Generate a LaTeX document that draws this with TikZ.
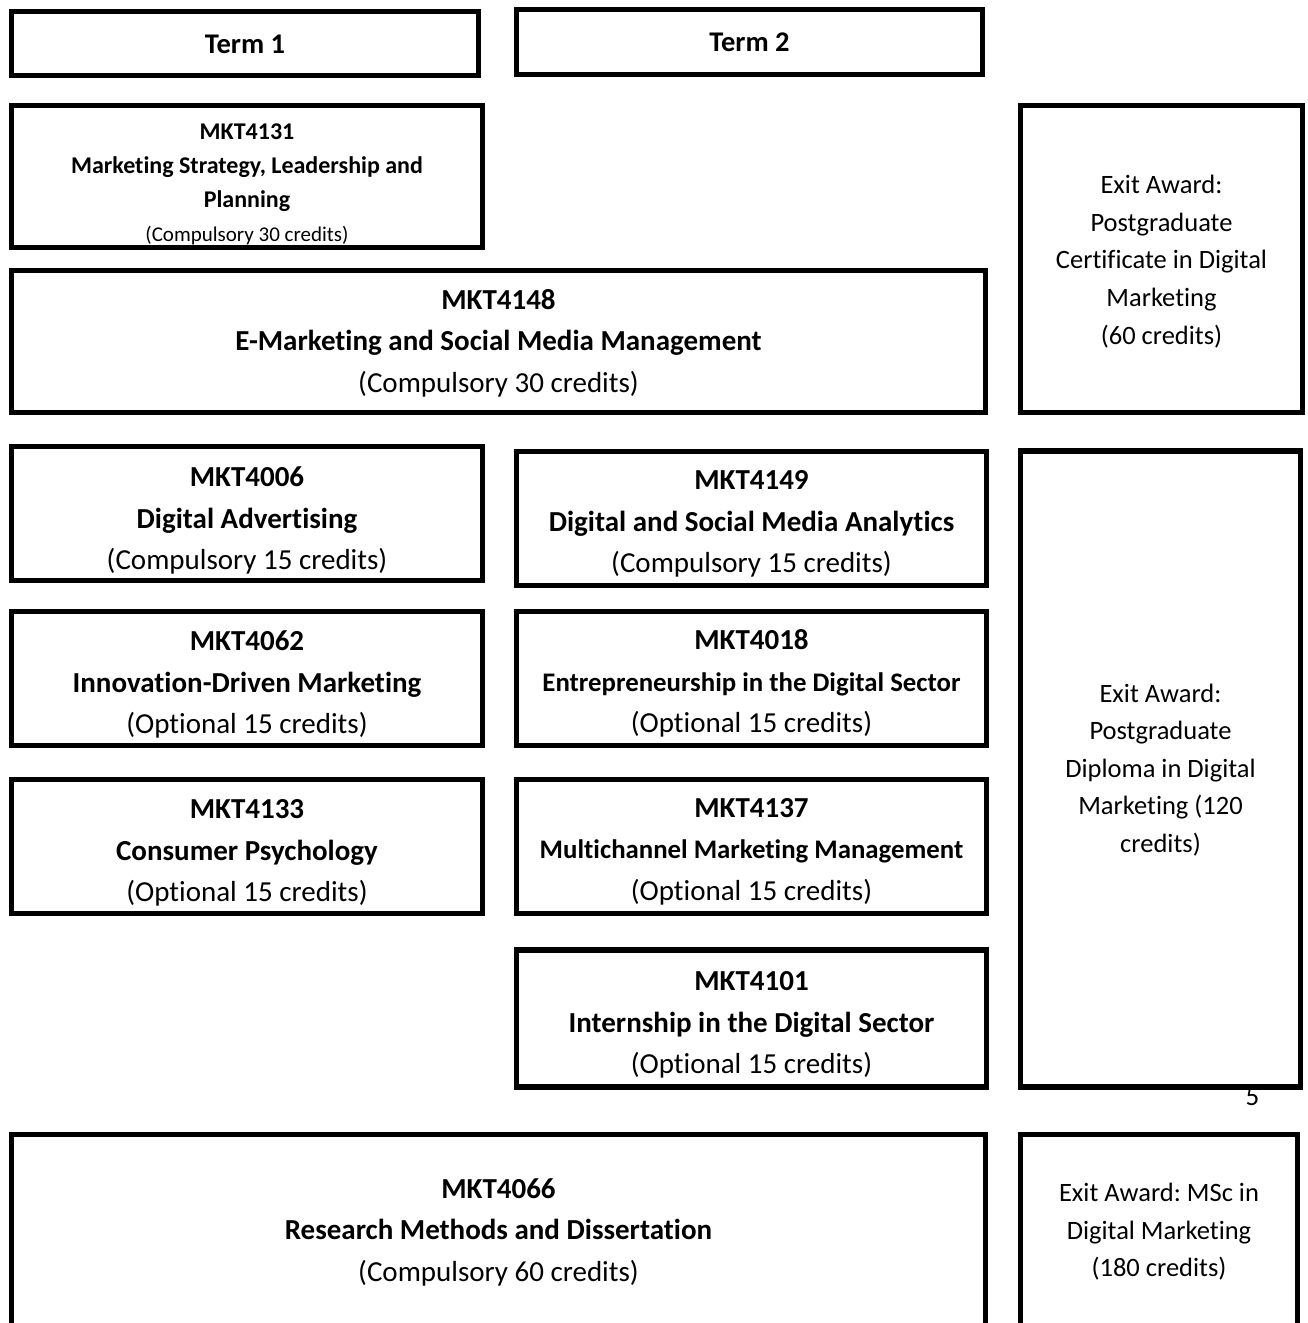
\documentclass[tikz,border=0pt]{standalone}
\usepackage{fontspec}
\setmainfont{Carlito}[Ligatures=NoCommon]
\begin{document}
\frenchspacing
\begin{tikzpicture}[x=1pt,y=-1pt,
  box/.style={draw=black, fill=white, line width=5.5pt, inner sep=0pt, rectangle},
  lbl/.style={inner sep=0pt, align=center},
  bigtxt/.style={lbl, font=\fontsize{29}{41.5}\selectfont},
  awardtxt/.style={lbl, font=\fontsize{26.5}{37.6}\selectfont},
  termtxt/.style={lbl, font=\fontsize{28.5}{34}\selectfont\bfseries}]
\useasboundingbox (0,0) rectangle (1307,1323);
\clip (0,0) rectangle (1307,1323);
% page number (partly hidden by the box above it)
\node[anchor=base, font=\fontsize{27}{30}\selectfont, inner sep=0pt] (pg) at (1252.5,1105) {5};
% header
\node[box, minimum width=467, minimum height=64] (t1) at (245,43.5) {};
\node[termtxt] (t1l) at (245,44.5) {Term 1};
\node[box, minimum width=466, minimum height=65] (t2) at (749.5,42) {};
\node[termtxt] (t2l) at (749.5,42) {Term 2};
% term 1 / full year
\node[box, minimum width=471, minimum height=142] (m4131) at (247,176.5) {};
\node[lbl, font=\fontsize{24}{34}\selectfont] (m4131l) at (247,184)
  {\textbf{MKT4131}\\\textbf{Marketing Strategy, Leadership and}\\\textbf{Planning}\\{\fontsize{21}{32}\selectfont(Compulsory 30 credits)}};
\node[box, minimum width=974, minimum height=142] (m4148) at (498.5,341.5) {};
\node[bigtxt] (m4148l) at (498.5,343)
  {\textbf{MKT4148}\\\textbf{E-Marketing and Social Media Management}\\(Compulsory 30 credits)};
\node[box, minimum width=282, minimum height=307] (cert) at (1161.5,259) {};
\node[awardtxt] (certl) at (1161.5,261.5)
  {Exit Award:\\Postgraduate\\Certificate in Digital\\Marketing\\(60 credits)};
% modules
\node[box, minimum width=471, minimum height=134] (m4006) at (247,513.5) {};
\node[bigtxt] (m4006l) at (247,520.5)
  {\textbf{MKT4006}\\\textbf{Digital Advertising}\\(Compulsory 15 credits)};
\node[box, minimum width=470, minimum height=134] (m4149) at (751.5,518.5) {};
\node[bigtxt] (m4149l) at (751.5,524)
  {\textbf{MKT4149}\\\textbf{Digital and Social Media Analytics}\\(Compulsory 15 credits)};
\node[box, minimum width=471, minimum height=134] (m4062) at (247,678.5) {};
\node[bigtxt] (m4062l) at (247,684.5)
  {\textbf{MKT4062}\\\textbf{Innovation-Driven Marketing}\\(Optional 15 credits)};
\node[box, minimum width=470, minimum height=134] (m4018) at (751.5,678.5) {};
\node[bigtxt] (m4018l) at (751.5,683.5)
  {\textbf{MKT4018}\\{\fontsize{26.8}{38}\selectfont\bfseries Entrepreneurship in the Digital Sector}\\(Optional 15 credits)};
\node[box, minimum width=471, minimum height=134] (m4133) at (247,846.5) {};
\node[bigtxt] (m4133l) at (247,853)
  {\textbf{MKT4133}\\\textbf{Consumer Psychology}\\(Optional 15 credits)};
\node[box, minimum width=470, minimum height=134] (m4137) at (751.5,846.5) {};
\node[bigtxt] (m4137l) at (751.5,851.5)
  {\textbf{MKT4137}\\{\fontsize{26.8}{38}\selectfont\bfseries Multichannel Marketing Management}\\(Optional 15 credits)};
\node[box, minimum width=470, minimum height=137] (m4101) at (751.5,1018.5) {};
\node[bigtxt] (m4101l) at (751.5,1025)
  {\textbf{MKT4101}\\\textbf{Internship in the Digital Sector}\\(Optional 15 credits)};
\node[box, minimum width=280, minimum height=636] (dipl) at (1160.5,769) {};
\node[awardtxt] (dipll) at (1160.5,770)
  {Exit Award:\\Postgraduate\\Diploma in Digital\\Marketing (120\\credits)};
% dissertation
\node[box, minimum width=974, minimum height=191] (m4066) at (498.5,1230) {};
\node[bigtxt] (m4066l) at (498.5,1232)
  {\textbf{MKT4066}\\\textbf{Research Methods and Dissertation}\\(Compulsory 60 credits)};
\node[box, minimum width=277, minimum height=191] (msc) at (1159,1230) {};
\node[awardtxt] (mscl) at (1159,1232)
  {Exit Award: MSc in\\Digital Marketing\\(180 credits)};
\end{tikzpicture}
\end{document}
